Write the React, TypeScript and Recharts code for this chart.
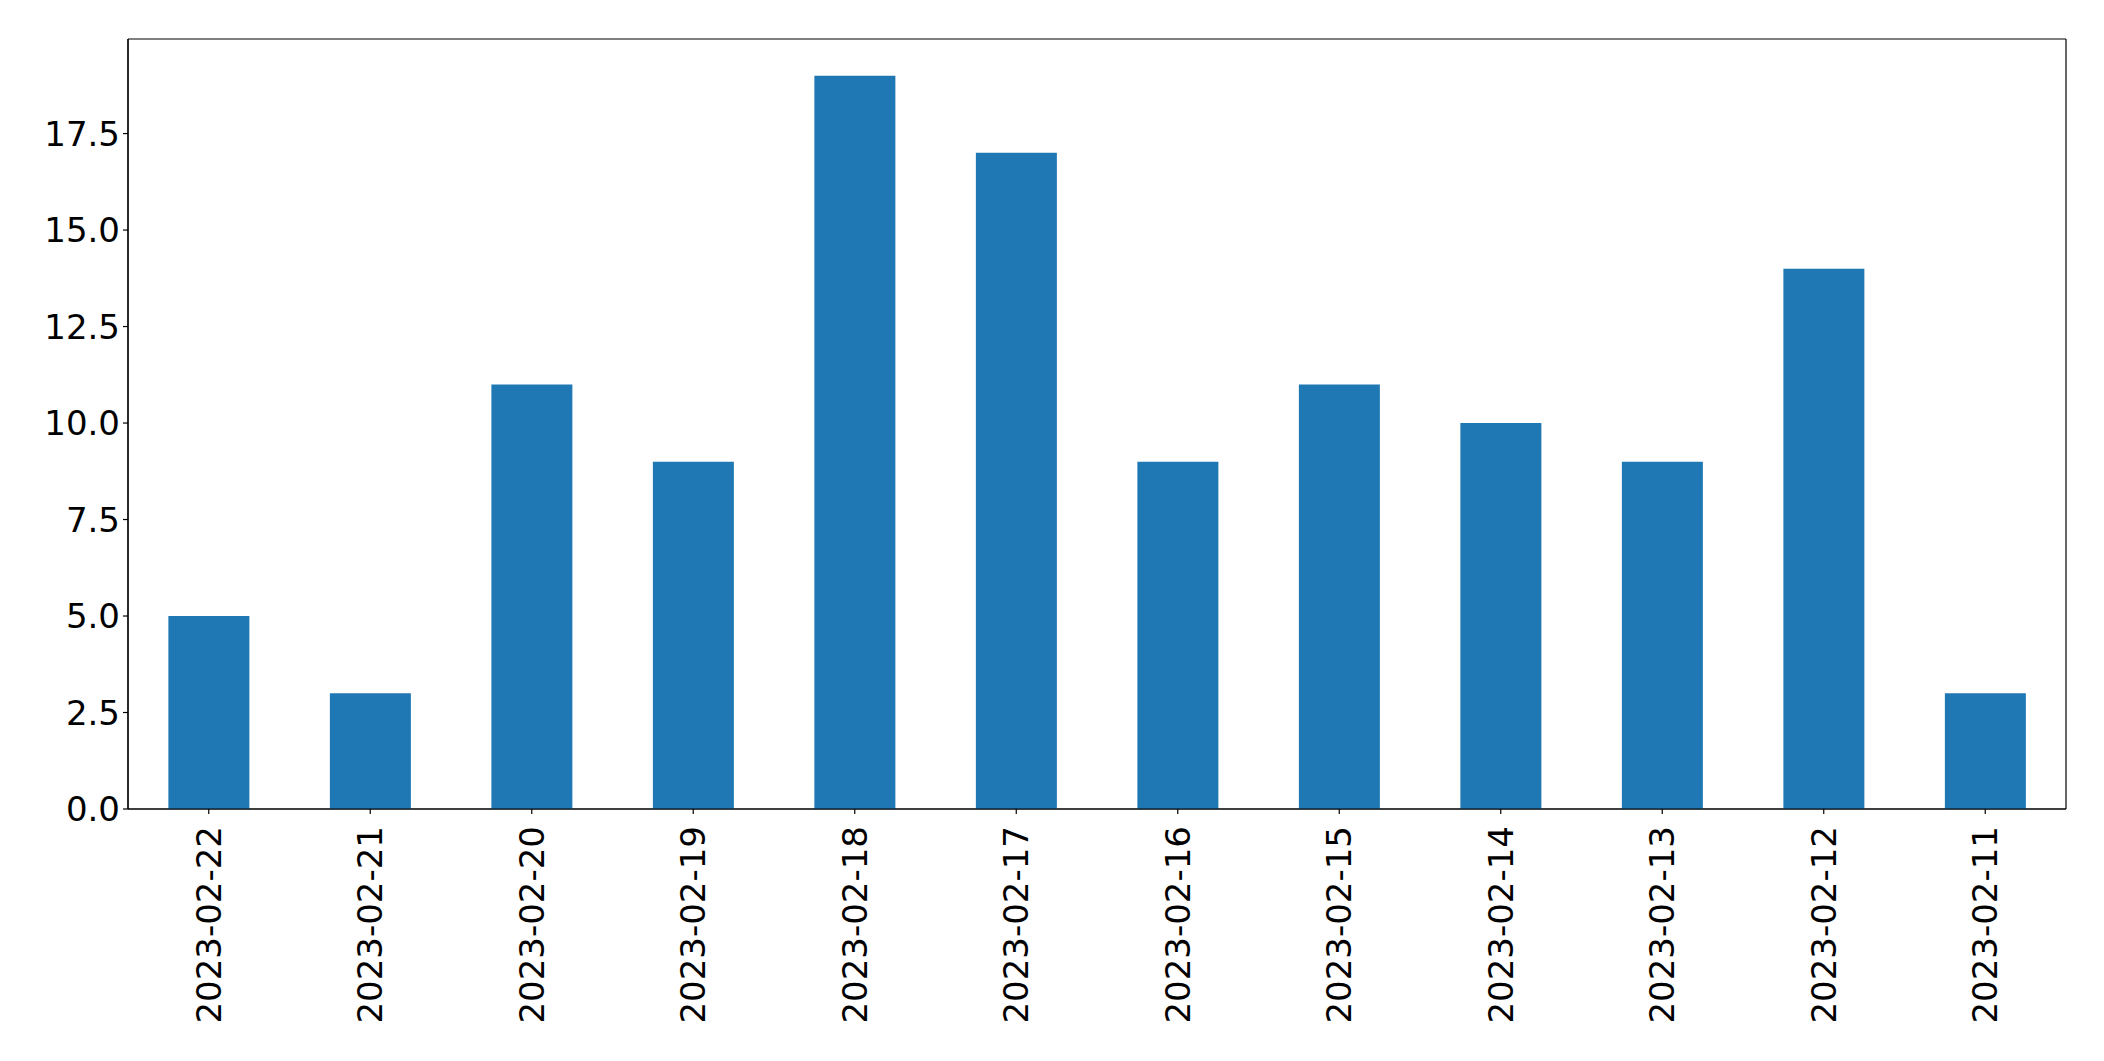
import { BarChart, Bar, XAxis, YAxis, CartesianGrid } from "recharts";

const dates = [
  "2023-02-22",
  "2023-02-21",
  "2023-02-20",
  "2023-02-19",
  "2023-02-18",
  "2023-02-17",
  "2023-02-16",
  "2023-02-15",
  "2023-02-14",
  "2023-02-13",
  "2023-02-12",
  "2023-02-11",
];
const counts = [5, 3, 11, 9, 19, 17, 9, 11, 10, 9, 14, 3];
const yTicks = [0, 2.5, 5, 7.5, 10, 12.5, 15, 17.5];

const data = dates.map((d, i) => ({ date: d, count: counts[i] }));

const FONT = "DejaVu Sans";
const FS = 34;

function DateTick(props: any) {
  const { x, y, payload } = props;
  return (
    <text
      transform={`translate(${x},${y}) rotate(-90)`}
      textAnchor="end"
      dominantBaseline="central"
      fontFamily={FONT}
      fontSize={FS}
      fill="#000"
    >
      {payload.value}
    </text>
  );
}

// frame around the plot area, drawn from the layout offset
const hFrame = ({ offset }: any) => [offset.top, offset.top + offset.height];
const vFrame = ({ offset }: any) => [offset.left, offset.left + offset.width];

export default function App() {
  return (
    <div style={{ position: "absolute", left: 0, top: 0, background: "#fff" }}>
      <BarChart
        width={2104}
        height={1061}
        data={data}
        margin={{ top: 39, right: 38, bottom: 0, left: 0 }}
        barCategoryGap="25%"
      >
        <CartesianGrid
          stroke="#000"
          strokeWidth={1.2}
          horizontalCoordinatesGenerator={hFrame}
          verticalCoordinatesGenerator={vFrame}
        />
        <XAxis
          dataKey="date"
          height={252}
          interval={0}
          tick={<DateTick />}
          tickSize={5}
          tickMargin={12}
          axisLine={{ stroke: "#000", strokeWidth: 1.2 }}
          tickLine={{ stroke: "#000", strokeWidth: 1.2 }}
        />
        <YAxis
          width={128}
          domain={[0, 19.95]}
          ticks={yTicks}
          tickFormatter={(v: number) => v.toFixed(1)}
          tickSize={5}
          tickMargin={3}
          tick={{ fontFamily: FONT, fontSize: FS, fill: "#000" }}
          axisLine={{ stroke: "#000", strokeWidth: 1.2 }}
          tickLine={{ stroke: "#000", strokeWidth: 1.2 }}
        />
        <Bar dataKey="count" fill="#1f77b4" isAnimationActive={false} />
      </BarChart>
    </div>
  );
}
